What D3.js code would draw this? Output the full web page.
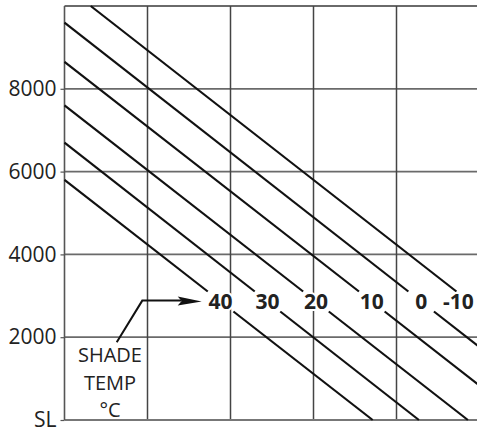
<!DOCTYPE html>
<html>
<head>
<meta charset="utf-8">
<script src="https://cdn.jsdelivr.net/npm/d3@7"></script>
<style>
  html, body { margin: 0; padding: 0; background: #fff; }
  svg { display: block; }
  text { font-family: "Open Sans", "Noto Sans", sans-serif; }
</style>
</head>
<body>
<script>
// ---- data ----
const altTicks = [0, 2000, 4000, 6000, 8000];
const altTickLabels = ["SL", "2000", "4000", "6000", "8000"];
const altTop = 10000;
const xGrid = [0, 1, 2, 3, 4, 5];

const temps     = [40, 30, 20, 10, 0, -10];
const tempLabels = ["40", "30", "20", "10", "0", "-10"];
// each temperature line as a straight segment (start -> end) in chart units
const startX    = [0, 0, 0, 0, 0, 0.316];
const startAlt  = [5800, 6700, 7600, 8650, 9600, 10000];
const endX      = [3.713, 4.27, 4.86, 5, 5, 5];
const endAlt    = [0, 0, 0, 834, 1760, 2669];

const noteLines = ["SHADE", "TEMP", "°C"];

// ---- layout ----
const W = 477, H = 437;
const svg = d3.select("body").append("svg").attr("width", W).attr("height", H);

const x = d3.scaleLinear().domain([0, 5]).range([64.5, 479.5]);
const y = d3.scaleLinear().domain([0, altTop]).range([420, 6]);

// horizontal grid
svg.append("g").selectAll("line").data(altTicks.filter(d => d > 0).concat([altTop])).join("line")
  .attr("x1", x(0)).attr("x2", W)
  .attr("y1", d => y(d)).attr("y2", d => y(d))
  .attr("stroke", "#6a6a6a").attr("stroke-width", 1.8);

// vertical grid
svg.append("g").selectAll("line").data(xGrid.filter(d => d > 0 && d < 5)).join("line")
  .attr("x1", d => x(d)).attr("x2", d => x(d))
  .attr("y1", y(altTop)).attr("y2", y(0))
  .attr("stroke", "#444").attr("stroke-width", 1.5);

// bottom (SL) line
svg.append("line").attr("x1", x(0)).attr("x2", W).attr("y1", y(0)).attr("y2", y(0))
  .attr("stroke", "#777").attr("stroke-width", 2.2);

// left axis
const axis = d3.axisLeft(y).tickValues(altTicks)
  .tickFormat((d, i) => altTickLabels[i]).tickSize(4).tickSizeOuter(0).tickPadding(4);
const ag = svg.append("g").attr("transform", `translate(${x(0)},0)`).call(axis);
ag.select(".domain").attr("stroke", "#555").attr("stroke-width", 1.6)
  .attr("d", `M0,${y(altTop)}V${y(0)}`);
ag.selectAll(".tick line").attr("stroke", "#555").attr("stroke-width", 1.2);
ag.selectAll(".tick text").attr("font-size", 21).attr("fill", "#222")
  .attr("font-family", "'Open Sans', sans-serif");

// temperature lines with a gap for labels
const gapTopPx = 291.5, gapBotPx = 311.5;
const gapHi = y.invert(gapTopPx), gapLo = y.invert(gapBotPx);
const lg = svg.append("g");
temps.forEach((t, i) => {
  const x0 = startX[i], a0 = startAlt[i], x1 = endX[i], a1 = endAlt[i];
  const xAt = a => x0 + (x1 - x0) * (a - a0) / (a1 - a0);
  const segs = [];
  if (a1 < gapHi) {
    segs.push([[x0, a0], [xAt(gapHi), gapHi]]);
    if (a1 < gapLo) segs.push([[xAt(gapLo), gapLo], [x1, a1]]);
  } else {
    segs.push([[x0, a0], [x1, a1]]);
  }
  segs.forEach(s => {
    lg.append("line")
      .attr("x1", x(s[0][0])).attr("y1", y(s[0][1]))
      .attr("x2", x(s[1][0])).attr("y2", y(s[1][1]))
      .attr("stroke", "#111").attr("stroke-width", 2.2);
  });
  const midAlt = (gapHi + gapLo) / 2;
  const lx = Math.min(x(xAt(midAlt)), 458.5);
  lg.append("text")
    .attr("x", lx).attr("y", y(midAlt)).attr("dy", "0.36em")
    .attr("text-anchor", "middle")
    .attr("font-size", 21).attr("font-weight", "bold").attr("fill", "#222")
    .attr("stroke", "#fff").attr("stroke-width", 4).attr("paint-order", "stroke")
    .text(tempLabels[i]);
});

// callout arrow
const ptA = [0.629, 1878], ptB = [0.937, 2884], ptTip = [1.653, 2884];
svg.append("path")
  .attr("d", `M${x(ptA[0])},${y(ptA[1])}L${x(ptB[0])},${y(ptB[1])}L${x(ptTip[0]) - 20},${y(ptTip[1])}`)
  .attr("fill", "none").attr("stroke", "#111").attr("stroke-width", 2);
const tx = x(ptTip[0]), ty = y(ptTip[1]);
svg.append("path")
  .attr("d", `M${tx},${ty + 0.8}L${tx - 24},${ty - 4}L${tx - 20},${ty + 0.5}L${tx - 24},${ty + 5}Z`)
  .attr("fill", "#111");

// note text
const noteX = x(0.548);
const noteBase = [y(1400), y(730), y(80)];
svg.append("g").selectAll("text").data(noteLines).join("text")
  .attr("x", noteX).attr("y", (d, i) => noteBase[i])
  .attr("text-anchor", "middle").attr("font-size", 20).attr("fill", "#222")
  .text(d => d);
</script>
</body>
</html>
